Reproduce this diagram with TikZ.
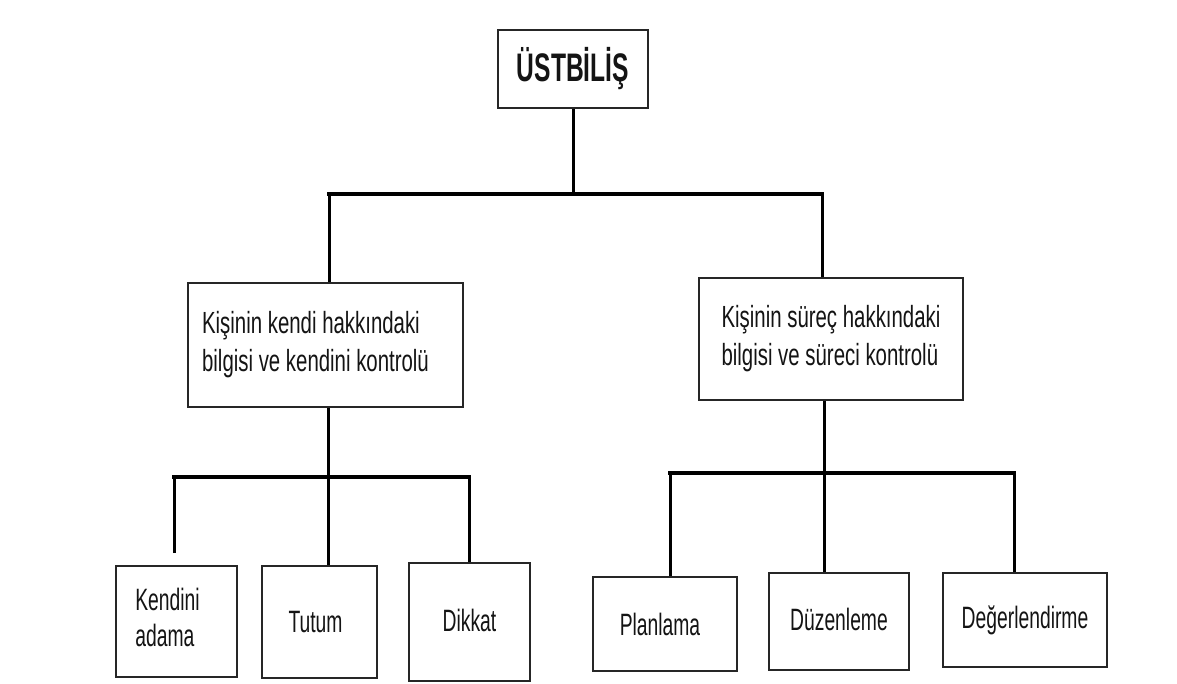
\documentclass[tikz,border=0pt]{standalone}
\usepackage{fontspec}
\usepackage{graphicx}
\setmainfont{Liberation Sans}
\newcommand\vstretch[2]{\scalebox{1}[#1]{#2}}
\begin{document}
\begin{tikzpicture}[x=1pt,y=-1pt,
  box/.style={draw=black!85, line width=1.9pt, fill=white, inner sep=0pt, text=black!92},
  midtxt/.style={font=\fontsize{20.4}{25.3}\selectfont},
  lowtxt/.style={font=\fontsize{19.3}{22}\selectfont},
  conn/.style={draw=black, line width=3pt},
  barline/.style={draw=black, line width=3.8pt}]
\useasboundingbox[fill=white] (0,0) rectangle (1177,684);

% boxes
\node[box, minimum width=150pt, minimum height=78pt, font=\fontsize{24.6}{28}\selectfont\bfseries] (top) at (573,69) {\vstretch{1.62}{ÜSTBİLİŞ}};
\node[box, midtxt, minimum width=275pt, minimum height=124pt] (m1) at (325.5,345)
  {\hspace*{-20pt}\vstretch{1.5}{\begin{tabular}{@{}l@{}}Kişinin kendi hakkındaki\\bilgisi ve kendini kontrolü\end{tabular}}};
\node[box, midtxt, minimum width=264pt, minimum height=122pt] (m2) at (831,339)
  {\raisebox{6pt}{\vstretch{1.5}{\begin{tabular}{@{}l@{}}Kişinin süreç hakkındaki\\bilgisi ve süreci kontrolü\end{tabular}}}};

\node[box, lowtxt, minimum width=121pt, minimum height=111pt] (b1) at (176.5,621.5)
  {\hspace*{-18pt}\raisebox{5pt}{\vstretch{1.6}{\begin{tabular}{@{}l@{}}Kendini\\adama\end{tabular}}}};
\node[box, lowtxt, minimum width=115pt, minimum height=112pt] (b2) at (319.5,622) {\hspace*{-8pt}\vstretch{1.6}{Tutum}};
\node[box, lowtxt, minimum width=121pt, minimum height=118pt] (b3) at (469.5,622) {\raisebox{4pt}{\vstretch{1.6}{Dikkat}}};
\node[box, lowtxt, minimum width=144pt, minimum height=94pt] (b4) at (665,624) {\hspace*{-10pt}\vstretch{1.6}{Planlama}};
\node[box, lowtxt, minimum width=140pt, minimum height=97pt] (b5) at (839,621.5) {\raisebox{4pt}{\vstretch{1.6}{Düzenleme}}};
\node[box, lowtxt, minimum width=164pt, minimum height=94pt] (b6) at (1025,620) {\vstretch{1.6}{Değerlendirme}};

% junctions
\coordinate (j1) at (573,194);
\coordinate (j2) at (328,477);
\coordinate (j3) at (824,473);
\coordinate (k1) at (174,553);

% connectors: vertical stems
\draw[conn] (top.south) -- (j1);
\draw[conn] ([xshift=3.5pt]m1.north) -- ([xshift=3.5pt]m1.north |- j1);
\draw[conn] ([xshift=-9pt]m2.north) -- ([xshift=-9pt]m2.north |- j1);

\draw[conn] ([xshift=2.5pt]m1.south) -- (j2);
\draw[conn] (k1) -- (k1 |- j2);
\draw[conn] (j2) -- ([xshift=8.5pt]b2.north);
\draw[conn] (b3.north) -- (b3.north |- j2);

\draw[conn] ([xshift=-7pt]m2.south) -- ([xshift=-15pt]b5.north);
\draw[conn] ([xshift=5pt]b4.north) -- ([xshift=5pt]b4.north |- j3);
\draw[conn] ([xshift=-11pt]b6.north) -- ([xshift=-11pt]b6.north |- j3);

% connectors: horizontal bars
\draw[barline, line cap=rect] ([xshift=3.5pt]m1.north |- j1) -- ([xshift=-9pt]m2.north |- j1);
\draw[barline, line cap=rect] (k1 |- j2) -- (b3.north |- j2);
\draw[barline, line cap=rect] ([xshift=5pt]b4.north |- j3) -- ([xshift=-11pt]b6.north |- j3);
\end{tikzpicture}
\end{document}
